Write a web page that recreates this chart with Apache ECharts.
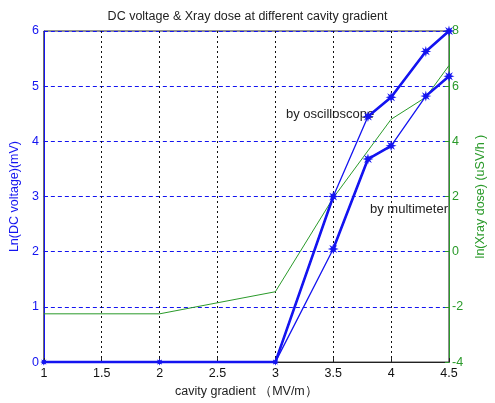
<!DOCTYPE html>
<html>
<head>
<meta charset="utf-8">
<script src="https://cdn.jsdelivr.net/npm/echarts@6/dist/echarts.min.js"></script>
<style>
  html, body { margin: 0; padding: 0; background: #fff; }
  #chart { width: 495px; height: 403px; }
</style>
</head>
<body>
<div id="chart"></div>
<script>
const gradient = [1, 2, 3, 3.5, 3.8, 4, 4.3, 4.5]
const lnOscilloscope = [0, 0, 0, 3.0, 4.45, 4.8, 5.63, 6.0]
const lnMultimeter = [0, 0, 0, 2.05, 3.68, 3.92, 4.82, 5.18]

const doseGradient = [1, 2, 3, 3.5, 4, 4.3, 4.5]
const lnDose = [-2.25, -2.25, -1.45, 1.95, 4.8, 5.6, 6.75]

const xTicks = [1, 1.5, 2, 2.5, 3, 3.5, 4, 4.5]

const BLUE = '#1414f0'
const GREEN = '#2a9a2a'
const FONT = 'Liberation Sans'
const STAR = 'path://M10 0 L4 1.7 L7.1 7.1 L1.7 4 L0 10 L-1.7 4 L-7.1 7.1 L-4 1.7 L-10 0 L-4 -1.7 L-7.1 -7.1 L-1.7 -4 L0 -10 L1.7 -4 L7.1 -7.1 L4 -1.7 Z'

// which index ranges of each curve are drawn heavier, as in the picture
const oscThick = [[0, 3], [4, 7]]
const multiThick = [[3, 5], [6, 7]]

const pairs = (xs, ys) => xs.map((x, i) => [x, ys[i]])

function baseLine (name, ys) {
  return {
    name,
    type: 'line',
    data: pairs(gradient, ys),
    symbol: STAR,
    symbolSize: (v, p) => p.dataIndex < 3 ? 7 : 11,
    itemStyle: { color: BLUE },
    lineStyle: { color: BLUE, width: 1.3 },
    z: 3
  }
}

function heavyParts (ys, ranges, width) {
  return ranges.map(([a, b]) => ({
    type: 'line',
    data: pairs(gradient.slice(a, b + 1), ys.slice(a, b + 1)),
    showSymbol: false,
    silent: true,
    lineStyle: { color: BLUE, width },
    z: 2
  }))
}

const chart = echarts.init(document.getElementById('chart'), null, { renderer: 'canvas' })

chart.setOption({
  animation: false,
  textStyle: { fontFamily: FONT },
  title: {
    text: 'DC voltage & Xray dose at different cavity gradient',
    left: 'center',
    top: 5,
    textStyle: { fontSize: 12.5, fontWeight: 'normal', color: '#222', fontFamily: FONT }
  },
  grid: {
    left: 43, right: 28, top: 31, bottom: 36,
    show: true, borderColor: '#222', borderWidth: 1, backgroundColor: '#fff'
  },
  xAxis: {
    type: 'value',
    min: 1, max: 4.5, interval: 0.5,
    name: 'cavity gradient （MV/m）',
    nameLocation: 'middle',
    nameGap: 20,
    nameTextStyle: { color: '#222', fontSize: 12.5 },
    axisLine: { lineStyle: { color: '#222' } },
    axisTick: { inside: true, length: 4, lineStyle: { color: '#222' } },
    axisLabel: { color: '#111', fontSize: 12.5, margin: 5, formatter: v => xTicks.includes(v) ? String(v) : '' },
    splitLine: { show: true, lineStyle: { color: '#111', type: [2, 3], width: 1 } }
  },
  yAxis: [
    {
      type: 'value',
      min: 0, max: 6, interval: 1,
      name: 'Ln(DC voltage)(mV)',
      nameLocation: 'middle',
      nameGap: 22,
      nameTextStyle: { color: BLUE, fontSize: 12.5 },
      axisLine: { show: true, lineStyle: { color: BLUE } },
      axisTick: { inside: true, length: 4, lineStyle: { color: BLUE } },
      axisLabel: { color: BLUE, fontSize: 12.5, margin: 5 },
      splitLine: { show: true, lineStyle: { color: BLUE, type: [4, 3], width: 1 } }
    },
    {
      type: 'value',
      position: 'right',
      min: -4, max: 8, interval: 2,
      name: 'ln(Xray dose) (uSV/h )',
      nameLocation: 'middle',
      nameGap: 16,
      nameRotate: 90,
      nameTextStyle: { color: GREEN, fontSize: 12.5 },
      axisLine: { show: true, lineStyle: { color: GREEN } },
      axisTick: { inside: true, length: 4, lineStyle: { color: GREEN } },
      axisLabel: { color: GREEN, fontSize: 12.5, margin: 3 },
      splitLine: { show: false }
    }
  ],
  graphic: [
    { type: 'text', left: 286, top: 108, style: { text: 'by oscilloscope', fill: '#222', font: '13px ' + FONT } },
    { type: 'text', left: 370, top: 203, style: { text: 'by multimeter', fill: '#222', font: '13px ' + FONT } }
  ],
  series: [
    {
      name: 'Xray dose',
      type: 'line',
      yAxisIndex: 1,
      data: pairs(doseGradient, lnDose),
      showSymbol: false,
      lineStyle: { color: GREEN, width: 1 },
      z: 1
    },
    ...heavyParts(lnOscilloscope, oscThick, 2.6),
    ...heavyParts(lnMultimeter, multiThick, 2.6),
    baseLine('by oscilloscope', lnOscilloscope),
    baseLine('by multimeter', lnMultimeter)
  ]
})
</script>
</body>
</html>
